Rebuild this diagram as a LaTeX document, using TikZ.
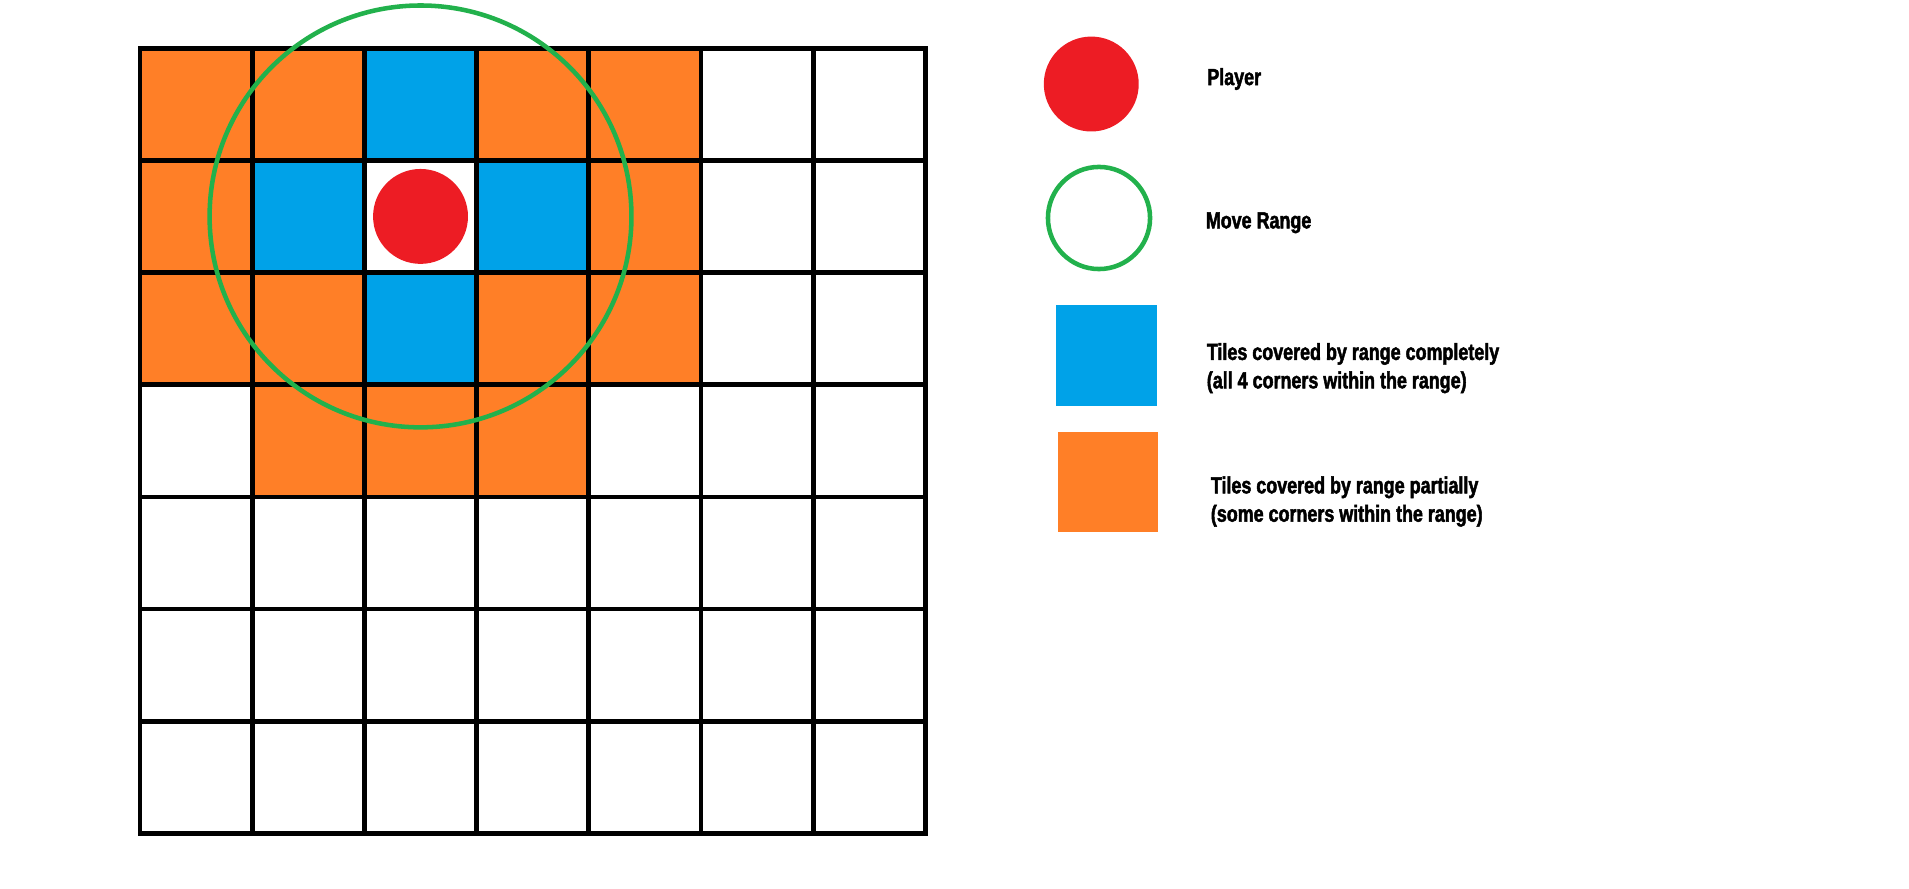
\documentclass[tikz,border=0pt]{standalone}
\usepackage{fontspec}
\setmainfont{Liberation Sans}[FakeStretch=0.77, BoldFeatures={FakeBold=2}]
\definecolor{tileorange}{HTML}{FF7F27}
\definecolor{tileblue}{HTML}{00A2E8}
\definecolor{playerred}{HTML}{ED1C24}
\definecolor{rangegreen}{HTML}{22B14C}
\begin{document}
\begin{tikzpicture}[
    gridline/.style={line width=1.2pt, line cap=rect, black},
    rangeline/.style={line width=1.15pt, rangegreen},
    legendtext/.style={font=\bfseries\fontsize{5.9}{7.2}\selectfont,
      align=left, inner sep=0pt, anchor=base west}
  ]
  \useasboundingbox (-1.248,-0.486) rectangle (15.766,7.429);
  % partially covered tiles
  \foreach \i/\j in {0/6,1/6,3/6,4/6,0/5,4/5,0/4,1/4,3/4,4/4,1/3,2/3,3/3}
    \fill[tileorange] (\i,\j) rectangle ++(1,1);
  % completely covered tiles
  \foreach \i/\j in {2/6,1/5,3/5,2/4}
    \fill[tileblue] (\i,\j) rectangle ++(1,1);
  \draw[gridline] (0,0) grid (7,7);
  \fill[playerred] (2.5,5.5) circle (0.423);
  \draw[rangeline] (2.5,5.5) circle (1.88);
  % legend
  \fill[playerred] (8.478,6.680) circle (0.423);
  \node[legendtext] (player) at (9.505,6.671) {Player};
  \draw[rangeline] (8.547,5.486) circle (0.455);
  \node[legendtext] (range) at (9.492,5.394) {Move Range};
  \fill[tileblue] (8.164,3.810) rectangle (9.064,4.710);
  \node[legendtext] (full) at (9.501,3.968)
    {Tiles covered by range completely\\(all 4 corners within the range)};
  \fill[tileorange] (8.182,2.687) rectangle (9.073,3.578);
  \node[legendtext] (partial) at (9.537,2.779)
    {Tiles covered by range partially\\(some corners within the range)};
\end{tikzpicture}
\end{document}
